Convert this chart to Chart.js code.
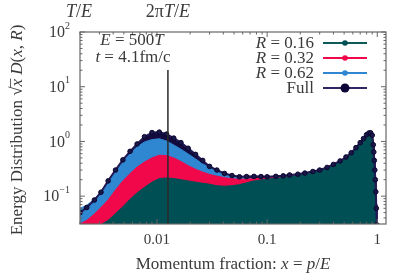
<!DOCTYPE html>
<html>
<head>
<meta charset="utf-8">
<script src="https://cdn.jsdelivr.net/npm/chart.js"></script>
<style>
html, body { margin: 0; background: #fff; }
#wrap { width: 415px; height: 277px; }
</style>
</head>
<body>
<div id="wrap"><canvas id="chart"></canvas></div>
<script>
// momentum fraction x = p/E
const xVals = [0.002, 0.0023, 0.0027, 0.0031, 0.0036, 0.0042, 0.0049, 0.0057, 0.0066, 0.0077,
    0.009, 0.0105, 0.0122, 0.0142, 0.0165, 0.0192, 0.0224, 0.026, 0.03, 0.035,
    0.041, 0.048, 0.056, 0.065, 0.076, 0.088, 0.1, 0.12, 0.14, 0.16,
    0.19, 0.22, 0.26, 0.3, 0.35, 0.4, 0.46, 0.52, 0.58, 0.64,
    0.7, 0.75, 0.8, 0.84, 0.87, 0.9, 0.92, 0.93, 0.94, 0.95,
    0.96, 0.97, 0.98, 0.99, 1.0]

const fullVals = [0.05, 0.062, 0.085, 0.118, 0.19, 0.30, 0.46, 0.66, 0.90, 1.22,
    1.45, 1.48, 1.36, 1.15, 0.95, 0.75, 0.58, 0.45, 0.35, 0.30,
    0.26, 0.238, 0.226, 0.228, 0.23, 0.228, 0.226, 0.23, 0.235, 0.244,
    0.252, 0.264, 0.282, 0.30, 0.335, 0.38, 0.44, 0.52, 0.62, 0.77,
    0.95, 1.13, 1.33, 1.43, 1.44, 1.3, 0.87, 0.64, 0.45, 0.3,
    0.2, 0.12, 0.06, 0.03, 0.015]

const r062Vals = [0.06, 0.068, 0.088, 0.12, 0.185, 0.29, 0.43, 0.6, 0.8, 0.98,
    1.08, 1.12, 1.02, 0.86, 0.72, 0.59, 0.48, 0.39, 0.33, 0.285,
    0.255, 0.236, 0.224, 0.215, 0.208, 0.212, 0.215, 0.22, 0.226, 0.235,
    0.245, 0.256, 0.275, 0.29, 0.325, 0.37, 0.43, 0.51, 0.61, 0.75,
    0.93, 1.1, 1.3, 1.4, 1.42, 1.3, 0.9, 0.66, 0.46, 0.31,
    0.21, 0.13, 0.07, 0.035, 0.015]

const r032Vals = [0.031, 0.036, 0.047, 0.062, 0.085, 0.13, 0.19, 0.26, 0.34, 0.42,
    0.5, 0.56, 0.55, 0.5, 0.43, 0.36, 0.31, 0.275, 0.25, 0.232,
    0.218, 0.208, 0.204, 0.205, 0.208, 0.212, 0.215, 0.22, 0.226, 0.235,
    0.245, 0.256, 0.275, 0.29, 0.325, 0.37, 0.43, 0.51, 0.61, 0.75,
    0.93, 1.1, 1.3, 1.4, 1.42, 1.3, 0.9, 0.66, 0.46, 0.31,
    0.21, 0.13, 0.07, 0.035, 0.015]

const r016Vals = [0.02, 0.02, 0.025, 0.03, 0.036, 0.048, 0.064, 0.088, 0.115, 0.145,
    0.18, 0.21, 0.215, 0.21, 0.2, 0.19, 0.18, 0.172, 0.165, 0.155,
    0.152, 0.155, 0.162, 0.175, 0.19, 0.198, 0.205, 0.212, 0.22, 0.228,
    0.24, 0.252, 0.27, 0.29, 0.325, 0.37, 0.43, 0.51, 0.61, 0.75,
    0.93, 1.1, 1.3, 1.4, 1.42, 1.3, 0.9, 0.66, 0.46, 0.31,
    0.21, 0.13, 0.07, 0.035, 0.015]

const xTicks = [0.01, 0.1, 1]
const xTickLabels = ['0.01', '0.1', '1']
const yTicks = [0.1, 1, 10, 100]
const yTickExps = ['\u22121', '0', '1', '2']
const markX = 2 * Math.PI / 500 // 2πT/E with E = 500T

const colors = {
    teal: '#004f55',
    red: '#f0084a',
    blue: '#2f86d1',
    navy: '#130a3e',
    fullLine: '#221a55',
    text: '#3a3a3a'
}

const pts = vals => vals.map((v, i) => ({ x: xVals[i], y: v }))

const SERIF = '"Liberation Serif", "DejaVu Serif", serif'

// draw text made of [string, italic] parts
function drawRuns(ctx, parts, x, y, align, size) {
    let widths = parts.map(p => {
        ctx.font = (p[1] ? 'italic ' : '') + size + 'px ' + SERIF
        return ctx.measureText(p[0]).width
    })
    let total = widths.reduce((a, b) => a + b, 0)
    let cx = align === 'center' ? x - total / 2 : align === 'right' ? x - total : x
    ctx.textAlign = 'left'
    parts.forEach((p, i) => {
        ctx.font = (p[1] ? 'italic ' : '') + size + 'px ' + SERIF
        ctx.fillText(p[0], cx, y)
        cx += widths[i]
    })
    return total
}

const decor = {
    id: 'decor',
    afterDatasetsDraw(chart) {
        const { ctx, chartArea: a, scales } = chart
        const vx = scales.x.getPixelForValue(markX)
        ctx.save()
        ctx.strokeStyle = '#2a2a2a'
        ctx.lineWidth = 1.5
        ctx.beginPath()
        ctx.moveTo(vx, 70)
        ctx.lineTo(vx, a.bottom)
        ctx.stroke()
        ctx.restore()
    },
    afterDraw(chart) {
        const { ctx, chartArea: a, scales } = chart
        const sx = scales.x, sy = scales.y
        ctx.save()

        // frame
        ctx.strokeStyle = '#666'
        ctx.lineWidth = 1.2
        ctx.strokeRect(a.left, a.top, a.right - a.left, a.bottom - a.top)

        // inward ticks
        ctx.lineWidth = 1
        ctx.beginPath()
        for (let d = -3; d <= 0; d++) {
            for (let m = 1; m <= 9; m++) {
                const v = m * Math.pow(10, d)
                if (v < sx.min || v > sx.max) continue
                const px = sx.getPixelForValue(v)
                const len = m === 1 ? 5 : 2.5
                ctx.moveTo(px, a.bottom); ctx.lineTo(px, a.bottom - len)
                ctx.moveTo(px, a.top); ctx.lineTo(px, a.top + len)
            }
        }
        for (let d = -2; d <= 2; d++) {
            for (let m = 1; m <= 9; m++) {
                const v = m * Math.pow(10, d)
                if (v < sy.min || v > sy.max) continue
                const py = sy.getPixelForValue(v)
                const len = m === 1 ? 5 : 2.5
                ctx.moveTo(a.left, py); ctx.lineTo(a.left + len, py)
                ctx.moveTo(a.right, py); ctx.lineTo(a.right - len, py)
            }
        }
        ctx.stroke()

        ctx.fillStyle = colors.text
        ctx.textBaseline = 'middle'

        // x tick labels
        xTicks.forEach((v, i) => {
            drawRuns(ctx, [[xTickLabels[i], false]], sx.getPixelForValue(v), 240, 'center', 15)
        })

        // y tick labels 10^n
        yTicks.forEach((v, i) => {
            const py = sy.getPixelForValue(v)
            ctx.font = '10px ' + SERIF
            const ew = ctx.measureText(yTickExps[i]).width
            ctx.textAlign = 'left'
            ctx.fillText(yTickExps[i], 70 - ew, py - 6)
            drawRuns(ctx, [['10', false]], 70 - ew, py + 1, 'right', 16)
        })

        // axis titles
        drawRuns(ctx, [['Momentum fraction: ', false], ['x', true], [' = ', false], ['p', true], ['/', false], ['E', true]],
            233, 265, 'center', 17)

        ctx.save()
        ctx.translate(18, 130)
        ctx.rotate(-Math.PI / 2)
        const yParts = [['Energy Distribution ', false], ['\u221A', false], ['x', true], [' D', true], ['(', false],
            ['x', true], [', ', false], ['R', true], [')', false]]
        const tw = drawRuns(ctx, yParts, 0, 0, 'center', 17)
        // overline of the square root
        ctx.font = '17px ' + SERIF
        const w0 = ctx.measureText('Energy Distribution \u221A').width
        ctx.font = 'italic 17px ' + SERIF
        const wx = ctx.measureText('x').width
        ctx.strokeStyle = colors.text
        ctx.lineWidth = 0.8
        ctx.beginPath()
        ctx.moveTo(-tw / 2 + w0 - 1, -7.5)
        ctx.lineTo(-tw / 2 + w0 + wx + 0.5, -7.5)
        ctx.stroke()
        ctx.restore()

        // top labels
        drawRuns(ctx, [['T', true], ['/', false], ['E', true]], sx.getPixelForValue(0.002) - 1, 12, 'center', 18)
        drawRuns(ctx, [['2\u03C0', false], ['T', true], ['/', false], ['E', true]], sx.getPixelForValue(markX), 12, 'center', 18)

        // annotation
        drawRuns(ctx, [['E', true], [' = 500', false], ['T', true]], 132, 41, 'center', 17)
        drawRuns(ctx, [['t', true], [' = 4.1fm/c', false]], 133, 58, 'center', 17)

        // legend
        const legend = [
            { parts: [['R', true], [' = 0.16', false]], color: '#0e5a5a', dot: '#004f55', r: 2.8 },
            { parts: [['R', true], [' = 0.32', false]], color: colors.red, dot: colors.red, r: 2.8 },
            { parts: [['R', true], [' = 0.62', false]], color: colors.blue, dot: colors.blue, r: 2.8 },
            { parts: [['Full', false]], color: '#2e2862', dot: '#0c0436', r: 4.5 }
        ]
        legend.forEach((e, i) => {
            const ly = 43 + i * 15
            ctx.fillStyle = colors.text
            drawRuns(ctx, e.parts, 314, ly + 1, 'right', 17)
            ctx.strokeStyle = e.color
            ctx.lineWidth = 2
            ctx.beginPath()
            ctx.moveTo(323, ly); ctx.lineTo(367, ly)
            ctx.stroke()
            ctx.fillStyle = e.dot
            ctx.beginPath()
            ctx.arc(345, ly, e.r, 0, Math.PI * 2)
            ctx.fill()
        })

        ctx.restore()
    }
}

new Chart(document.getElementById('chart'), {
    type: 'line',
    data: {
        datasets: [
            {
                label: 'Full',
                data: pts(fullVals),
                borderColor: colors.fullLine,
                borderWidth: 2,
                pointRadius: 2.3,
                pointBackgroundColor: '#1a1848',
                pointBorderColor: '#0a0530',
                pointBorderWidth: 1,
                fill: false
            },
            {
                label: 'R = 0.16',
                data: pts(r016Vals),
                borderColor: colors.teal,
                backgroundColor: colors.teal,
                borderWidth: 1,
                pointRadius: 0,
                fill: 'start'
            },
            {
                label: 'R = 0.32',
                data: pts(r032Vals),
                borderColor: colors.red,
                backgroundColor: colors.red,
                borderWidth: 1,
                pointRadius: 0,
                fill: 'start'
            },
            {
                label: 'R = 0.62',
                data: pts(r062Vals),
                borderColor: colors.blue,
                backgroundColor: colors.blue,
                borderWidth: 1,
                pointRadius: 0,
                fill: 'start'
            },
            {
                label: 'Full fill',
                data: pts(fullVals),
                borderColor: colors.navy,
                backgroundColor: colors.navy,
                borderWidth: 1,
                pointRadius: 0,
                fill: 'start'
            }
        ]
    },
    options: {
        responsive: true,
        maintainAspectRatio: false,
        animation: false,
        layout: { padding: { left: 80, right: 29, top: 32, bottom: 53 } },
        elements: { line: { tension: 0 } },
        plugins: { legend: { display: false }, tooltip: { enabled: false } },
        scales: {
            x: { type: 'logarithmic', min: 0.002, max: 1.2, display: false },
            y: { type: 'logarithmic', min: 0.031, max: 100, display: false }
        }
    },
    plugins: [decor]
})
</script>
</body>
</html>
